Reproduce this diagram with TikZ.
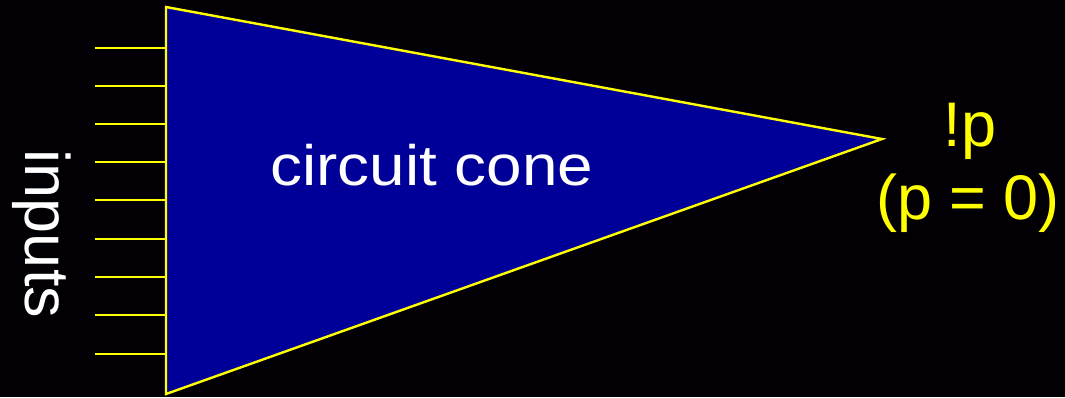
\documentclass[tikz,border=0pt]{standalone}
\usepackage{fontspec}
\setmainfont{Liberation Sans}
\definecolor{bg}{RGB}{2,0,5}
\definecolor{coneblue}{RGB}{0,0,153}
\definecolor{ylw}{RGB}{255,255,0}
\begin{document}
\begin{tikzpicture}[x=1pt,y=-1pt,
  wire/.style={draw=ylw,line width=2.4pt},
  cone/.style={fill=coneblue,draw=ylw,line width=2.4pt,line join=miter},
  lbl/.style={inner sep=0pt,anchor=base}]
\fill[bg] (0,0) rectangle (1065,397);
\useasboundingbox (0,0) rectangle (1065,397);
\coordinate (tl) at (166,7);
\coordinate (bl) at (166,394);
\coordinate (apex) at (882,139);
\foreach \i/\y in {1/48,2/86,3/124,4/162,5/200,6/239,7/277,8/315,9/354}{
  \coordinate (in\i) at (95,\y);
  \coordinate (pin\i) at (166,\y);
  \draw[wire] (in\i) -- (pin\i);
}
\path[cone] (tl) -- (apex) -- (bl) -- cycle;
\node[lbl,text=white,font=\fontsize{57}{60}\selectfont,xscale=1.12] (cc) at (432,185) {circuit cone};
\node[lbl,text=white,font=\fontsize{63}{66}\selectfont,rotate=-90] (inp) at (25,234) {inputs};
\node[lbl,text=ylw,font=\fontsize{63}{66}\selectfont] (np) at (970,146) {!p};
\node[lbl,text=ylw,font=\fontsize{63}{66}\selectfont] (p0) at (968,219) {(p = 0)};
\end{tikzpicture}
\end{document}
